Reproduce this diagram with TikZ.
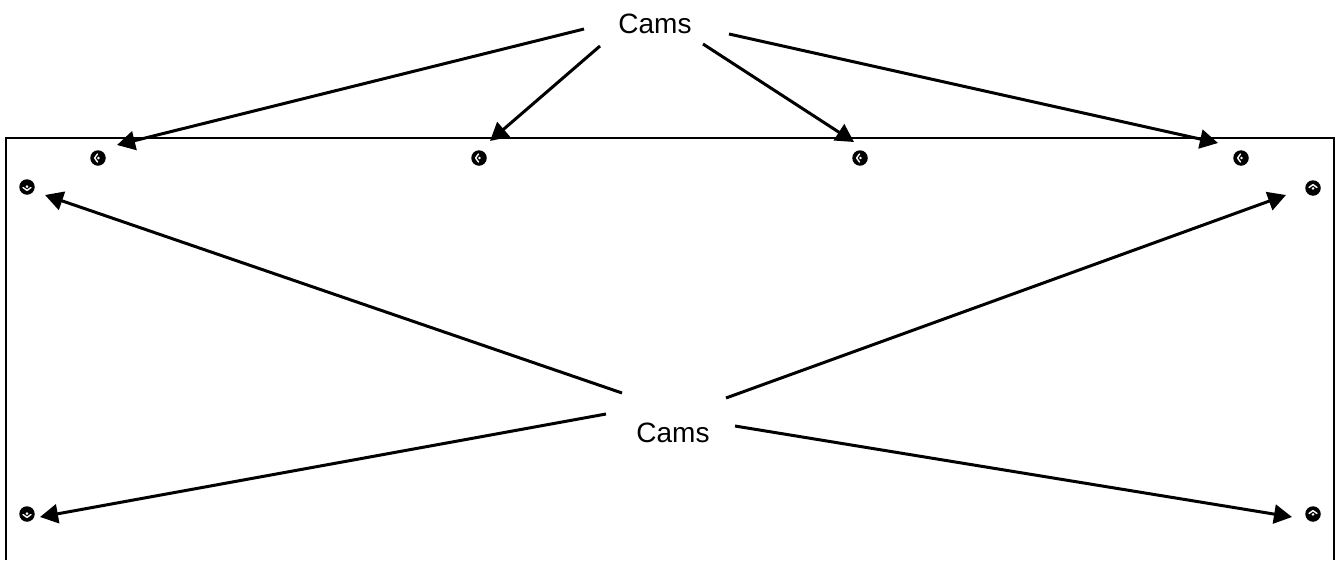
\documentclass[tikz,border=0pt]{standalone}
\usepackage{fontspec}
\setmainfont{Liberation Sans}
\usetikzlibrary{arrows.meta}
\tikzset{
  x=1pt,y=-1pt,
  label text/.style={inner sep=0pt,font=\fontsize{28}{30}\selectfont,text=black},
  panel/.style={line width=2pt,draw=black},
  pointer/.style={line width=3pt,draw=black,-{Triangle[length=18pt,width=19pt]}},
  screw/.style={circle,fill=black,minimum size=15.5pt,inner sep=0pt},
  screw mark/.style={draw=white,line width=1.4pt,line cap=round,line join=round},
  screw dot/.style={fill=white,draw=none}
}
\newcommand{\screwat}[3]{%
  \node[screw] (#1) at (#2) {};
  \begin{scope}[shift={(#2)},rotate=#3]
    \draw[screw mark] (-0.5,-4) -- (-3.4,0) -- (-0.5,4);
    \fill[screw dot] (0.4,0) circle (1.4);
  \end{scope}}
\begin{document}
\begin{tikzpicture}
\useasboundingbox (0,0) rectangle (1336,560);
\fill[white] (0,0) rectangle (1336,560);
\coordinate (pbl) at (6,560);
\coordinate (ptl) at (6,138);
\coordinate (ptr) at (1334,138);
\coordinate (pbr) at (1334,560);
\draw[panel] (pbl) -- (ptl) -- (ptr) -- (pbr);
\screwat{s1}{98,158}{0}
\screwat{s2}{479,158}{0}
\screwat{s3}{860,158}{0}
\screwat{s4}{1241,158}{0}
\screwat{s5}{27,187}{90}
\screwat{s6}{27,514}{90}
\screwat{s7}{1313,188}{-90}
\screwat{s8}{1313,514}{-90}
\node[label text] (camstop) at (655,24) {Cams};
\node[label text] (camsbot) at (673,433) {Cams};
\coordinate (a1) at (584,29);   \coordinate (b1) at (117,145);
\coordinate (a2) at (600,46);   \coordinate (b2) at (490,141);
\coordinate (a3) at (703,44);   \coordinate (b3) at (854,142);
\coordinate (a4) at (729,34);   \coordinate (b4) at (1218,143);
\coordinate (a5) at (622,393);  \coordinate (b5) at (45,195);
\coordinate (a6) at (606,414);  \coordinate (b6) at (40,517);
\coordinate (a7) at (726,398);  \coordinate (b7) at (1286,195);
\coordinate (a8) at (735,426);  \coordinate (b8) at (1292,517);
\foreach \i in {1,...,8} \draw[pointer] (a\i) -- (b\i);
\end{tikzpicture}
\end{document}
